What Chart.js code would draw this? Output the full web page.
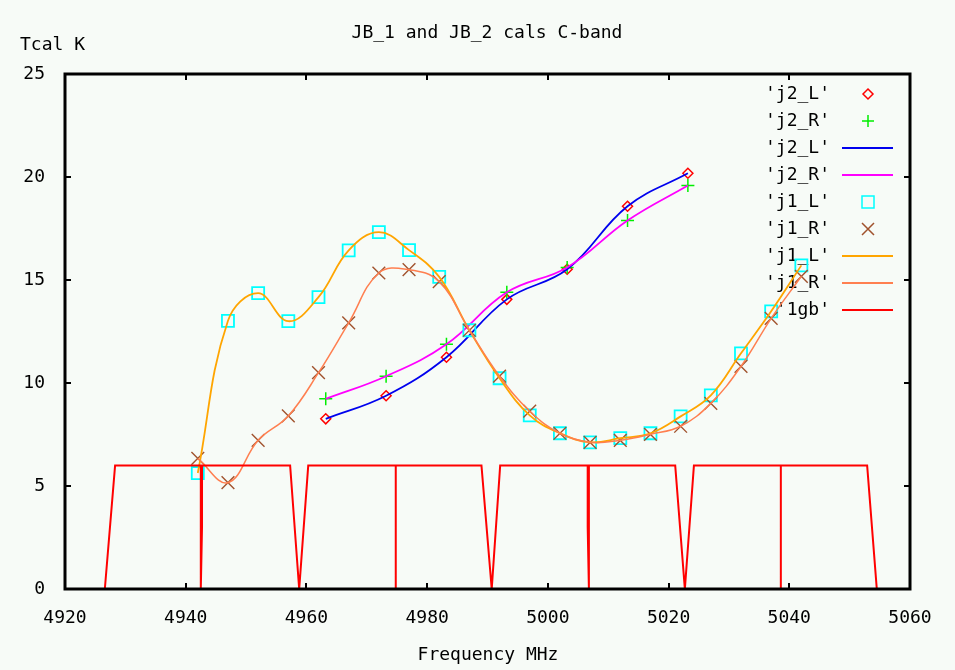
<!DOCTYPE html>
<html>
<head>
<meta charset="utf-8">
<title>JB_1 and JB_2 cals C-band</title>
<script src="https://cdn.jsdelivr.net/npm/chart.js@4.4.1/dist/chart.umd.min.js"></script>
<style>
  html, body { margin: 0; padding: 0; background: #f7fbf7; }
  canvas { display: block; }
</style>
</head>
<body>
<canvas id="calChart" width="955" height="670"></canvas>
<script>
// values: frequency in MHz, Tcal in K
const j1Freq = [4942, 4947, 4952, 4957, 4962, 4967, 4972, 4977, 4982, 4987, 4992,
                4997, 5002, 5007, 5012, 5017, 5022, 5027, 5032, 5037, 5042];
const j1L = [5.63, 13.02, 14.36, 13.0, 14.17, 16.44, 17.32, 16.45, 15.15, 12.56, 10.23,
             8.43, 7.56, 7.12, 7.32, 7.56, 8.38, 9.4, 11.44, 13.48, 15.71];
const j1R = [6.34, 5.16, 7.22, 8.4, 10.5, 12.92, 15.34, 15.5, 14.92, 12.56, 10.33,
             8.63, 7.56, 7.12, 7.22, 7.51, 7.9, 9.01, 10.81, 13.14, 15.18];

const j2Freq = [4963.2, 4973.2, 4983.2, 4993.2, 5003.2, 5013.2, 5023.2];
const j2L = [8.26, 9.38, 11.25, 14.06, 15.52, 18.58, 20.18];
const j2R = [9.23, 10.33, 11.88, 14.4, 15.61, 17.89, 19.59];

// 1gb band shape
const gbFreq = [4926.6, 4928.3, 4942.5, 4942.5, 4942.7, 4942.7, 4957.3, 4958.8, 4960.3,
                4974.8, 4974.8, 4974.8, 4989.0, 4990.7, 4992.1,
                5006.8, 5006.8, 5006.6, 5006.6, 5021.1, 5022.7, 5024.2,
                5038.6, 5038.6, 5038.6, 5052.9, 5054.5];
const gbLevel = [0, 6, 6, 0, 3, 6, 6, 0, 6,
                 6, 0, 6, 6, 0, 6,
                 6, 0, 3, 6, 6, 0, 6,
                 6, 0, 6, 6, 0];

const xTicks = [4920, 4940, 4960, 4980, 5000, 5020, 5040, 5060];
const yTicks = [0, 5, 10, 15, 20, 25];

const FONT = '"DejaVu Sans Mono", "Liberation Mono", monospace';
const BG = '#f7fbf7';

function pts(xs, ys) {
    return xs.map((x, i) => ({ x: x, y: ys[i] }));
}

// legend rows, same order as the gnuplot key
const keyRows = [
    { label: "'j2_L'", style: 'diamond', color: '#ff0000' },
    { label: "'j2_R'", style: 'plus', color: '#00ee00' },
    { label: "'j2_L'", style: 'line', color: '#0000ee' },
    { label: "'j2_R'", style: 'line', color: '#ff00ff' },
    { label: "'j1_L'", style: 'square', color: '#00ffff' },
    { label: "'j1_R'", style: 'x', color: '#a0522d' },
    { label: "'j1_L'", style: 'line', color: '#ffa500' },
    { label: "'j1_R'", style: 'line', color: '#ff7f50' },
    { label: "'1gb'", style: 'line', color: '#ff0000' }
];

function drawMarker(ctx, style, x, y) {
    ctx.beginPath();
    if (style === 'diamond') {
        ctx.moveTo(x, y - 5); ctx.lineTo(x + 5, y); ctx.lineTo(x, y + 5); ctx.lineTo(x - 5, y); ctx.closePath();
    } else if (style === 'plus') {
        ctx.moveTo(x - 6, y); ctx.lineTo(x + 6, y); ctx.moveTo(x, y - 6); ctx.lineTo(x, y + 6);
    } else if (style === 'square') {
        ctx.rect(x - 6, y - 6, 12, 12);
    } else if (style === 'x') {
        ctx.moveTo(x - 6, y - 6); ctx.lineTo(x + 6, y + 6); ctx.moveTo(x + 6, y - 6); ctx.lineTo(x - 6, y + 6);
    }
    ctx.stroke();
}

const framePlugin = {
    id: 'frame',
    beforeDraw(chart) {
        const ctx = chart.ctx;
        ctx.save();
        ctx.fillStyle = BG;
        ctx.fillRect(0, 0, chart.width, chart.height);
        ctx.restore();
    },
    beforeDatasetsDraw(chart) {
        // key is drawn first so the curves pass over it
        const ctx = chart.ctx;
        ctx.save();
        ctx.font = '18px ' + FONT;
        ctx.textAlign = 'right';
        ctx.textBaseline = 'middle';
        keyRows.forEach((row, i) => {
            const y = 94 + i * 27.0;
            ctx.fillStyle = '#000';
            ctx.fillText(row.label, 830, y);
            ctx.strokeStyle = row.color;
            if (row.style === 'line') {
                ctx.lineWidth = 2;
                ctx.beginPath();
                ctx.moveTo(842, y); ctx.lineTo(893, y);
                ctx.stroke();
            } else {
                ctx.lineWidth = 1.5;
                drawMarker(ctx, row.style, 868, y);
            }
        });
        ctx.restore();
    },
    afterDatasetsDraw(chart) {
        const ctx = chart.ctx;
        const a = chart.chartArea;
        const xs = chart.scales.x, ys = chart.scales.y;
        ctx.save();
        ctx.strokeStyle = '#000';
        ctx.lineWidth = 3;
        ctx.strokeRect(a.left, a.top, a.right - a.left, a.bottom - a.top);
        ctx.lineWidth = 2;
        ctx.beginPath();
        xTicks.slice(1, -1).forEach(v => {
            const px = Math.round(xs.getPixelForValue(v));
            ctx.moveTo(px, a.bottom); ctx.lineTo(px, a.bottom - 6);
            ctx.moveTo(px, a.top); ctx.lineTo(px, a.top + 6);
        });
        yTicks.slice(1, -1).forEach(v => {
            const py = Math.round(ys.getPixelForValue(v));
            ctx.moveTo(a.left, py); ctx.lineTo(a.left + 6, py);
            ctx.moveTo(a.right, py); ctx.lineTo(a.right - 6, py);
        });
        ctx.stroke();
        ctx.restore();
    },
    afterDraw(chart) {
        const ctx = chart.ctx;
        ctx.save();
        ctx.fillStyle = '#000';
        ctx.font = '18px ' + FONT;
        ctx.textBaseline = 'middle';
        ctx.textAlign = 'center';
        ctx.fillText('JB_1 and JB_2 cals C-band', 487, 33);
        ctx.fillText('Frequency MHz', 488, 655);
        ctx.textAlign = 'left';
        ctx.fillText('Tcal K', 20, 45);
        ctx.restore();
    }
};

const ctx = document.getElementById('calChart').getContext('2d');
const tickFont = { family: FONT, size: 18 };

new Chart(ctx, {
    type: 'scatter',
    data: {
        datasets: [
            { label: "'j2_L'", data: pts(j2Freq, j2L), order: 9, showLine: false,
              pointStyle: 'rectRot', pointRadius: 5, borderColor: '#ff0000',
              backgroundColor: 'rgba(0,0,0,0)', pointBorderWidth: 1.5 },
            { label: "'j2_R'", data: pts(j2Freq, j2R), order: 8, showLine: false,
              pointStyle: 'cross', pointRadius: 6.5, borderColor: '#00ee00', pointBorderWidth: 1.5 },
            { label: "'j2_L'", data: pts(j2Freq, j2L), order: 7, showLine: true, tension: 0.4,
              pointRadius: 0, borderColor: '#0000ee', borderWidth: 1.8 },
            { label: "'j2_R'", data: pts(j2Freq, j2R), order: 6, showLine: true, tension: 0.4,
              pointRadius: 0, borderColor: '#ff00ff', borderWidth: 1.8 },
            { label: "'j1_L'", data: pts(j1Freq, j1L), order: 5, showLine: false,
              pointStyle: 'rect', pointRadius: 8.5, borderColor: '#00ffff',
              backgroundColor: 'rgba(0,0,0,0)', pointBorderWidth: 1.8 },
            { label: "'j1_R'", data: pts(j1Freq, j1R), order: 4, showLine: false,
              pointStyle: 'crossRot', pointRadius: 9, borderColor: '#a0522d', pointBorderWidth: 1.4 },
            { label: "'j1_L'", data: pts(j1Freq, j1L), order: 3, showLine: true, tension: 0.4,
              pointRadius: 0, borderColor: '#ffa500', borderWidth: 1.8 },
            { label: "'j1_R'", data: pts(j1Freq, j1R), order: 2, showLine: true, tension: 0.4,
              pointRadius: 0, borderColor: '#ff7f50', borderWidth: 1.5 },
            { label: "'1gb'", data: pts(gbFreq, gbLevel), order: 1, showLine: true, tension: 0,
              pointRadius: 0, borderColor: '#ff0000', borderWidth: 2 }
        ]
    },
    options: {
        responsive: false,
        animation: false,
        events: [],
        layout: { padding: { left: 0, right: 45, top: 74, bottom: 0 } },
        plugins: {
            legend: { display: false },
            title: { display: false },
            tooltip: { enabled: false }
        },
        scales: {
            x: {
                type: 'linear', min: 4920, max: 5060,
                grid: { display: false }, border: { display: false },
                ticks: { font: tickFont, color: '#000', padding: 11, maxRotation: 0,
                         callback: v => String(v) },
                afterBuildTicks: s => { s.ticks = xTicks.map(v => ({ value: v })); },
                afterFit: s => { s.height = 81; }
            },
            y: {
                type: 'linear', min: 0, max: 25,
                grid: { display: false }, border: { display: false },
                ticks: { font: tickFont, color: '#000', padding: 12, callback: v => String(v) },
                afterBuildTicks: s => { s.ticks = yTicks.map(v => ({ value: v })); },
                afterFit: s => { s.width = 65; }
            }
        }
    },
    plugins: [framePlugin]
});
</script>
</body>
</html>
